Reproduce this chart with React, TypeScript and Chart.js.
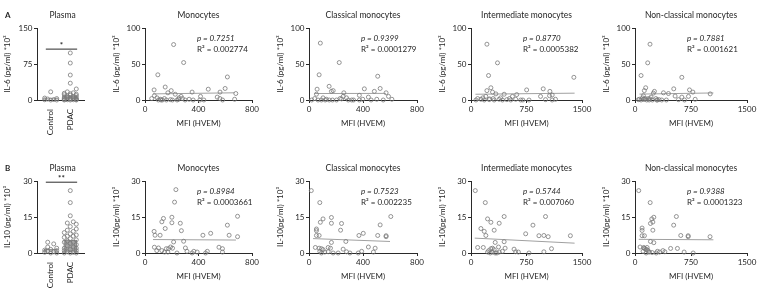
import React, { useEffect, useRef } from 'react';
import { Chart, registerables } from 'chart.js';

Chart.register(...registerables);

const FONT_FAMILY = 'Lato, "Open Sans", "DejaVu Sans", sans-serif';
const TEXT = '#1f1f1f';
const AXIS = '#2a2a2a';
const POINT = '#7a7a7a';
const FIT = '#a0a0a0';

// ---------- Plasma (bar + dots) ----------
const plasmaCategories = ['Control', 'PDAC'];
const il6PlasmaControl = [17, 4, 3, 2, 1, 0.5, 0, 0];
const il6PlasmaPdac = [98, 77, 52, 35, 23, 17, 15, 14, 13, 12, 11, 10, 9, 8, 7, 6, 5, 5, 4, 3, 3, 2, 2, 1, 1, 0.5, 0.5, 0, 0, 0];
const il6PlasmaMeans = [3, 9];
const il10PlasmaControl = [4.5, 3.8, 2.5, 2, 1.5, 1.2, 1, 0.8, 0.5, 0.3, 0, 0];
const il10PlasmaPdac = [26, 21, 15.5, 13, 12.5, 12, 11, 10, 9.5, 9, 8.5, 8, 7.5, 7, 7, 6.5, 6, 5.5, 5, 4.5, 4.5, 4, 3.5, 3, 2.5, 2, 2, 1.5, 1, 1, 0.5, 0.3, 0, 0, 0];
const il10PlasmaMeans = [1.6, 5.4];

// ---------- IL-6 vs MFI (HVEM) ----------
const il6MonoMfi = [214, 289, 96, 151, 616, 68, 473, 599, 171, 196, 226, 352, 561, 679, 415, 50, 70, 100, 115, 130, 145, 160, 190, 205, 240, 255, 270, 280, 300, 330, 360, 410, 440, 540, 560, 580, 670, 90, 120, 250];
const il6MonoVal = [77, 52, 35, 18, 32, 14, 15, 16, 10, 13, 8, 11, 11, 9, 5, 2, 6, 0, 1, 0, 2, 0, 0.5, 0, 0, 3, 5, 2, 0, 1, 0, 0, 0, 4, 2, 0, 1, 3, 0, 1];
const il6MonoFitX = [60, 670];
const il6MonoFitY = [8.5, 10];

const il6ClassMfi = [84, 224, 75, 149, 509, 60, 410, 527, 166, 179, 258, 373, 484, 571, 589, 253, 440, 55, 20, 42, 67, 92, 104, 174, 204, 278, 291, 316, 373, 398, 502, 614, 129, 241, 150, 230, 330, 460, 550, 120];
const il6ClassVal = [79, 52, 35, 19, 33, 15, 15.5, 16, 12, 13, 10, 6.5, 12, 10, 5, 5, 4, 8, 0, 2, 0, 0, 3, 0, 0, 3, 0, 0, 0, 1, 1, 1, 1, 1.5, 0, 2, 0, 0, 0, 0];
const il6ClassFitX = [40, 570];
const il6ClassFitY = [9, 9.2];

const il6InterMfi = [215, 358, 237, 269, 1390, 215, 752, 976, 291, 336, 618, 1061, 448, 560, 1066, 1097, 940, 67, 134, 179, 246, 313, 380, 425, 484, 537, 604, 672, 784, 1007, 1097, 1142, 160, 200, 300, 400, 520, 90, 250, 700];
const il6InterVal = [77.5, 51.6, 34, 17, 31.5, 13, 14, 15.5, 11, 8.5, 7.5, 6, 8, 5, 12, 7, 5, 0, 1, 0, 0.5, 0, 1, 0, 0.5, 0, 1, 0, 0, 0.5, 0, 1, 3, 5, 2, 3, 2, 2, 1.5, 0];
const il6InterFitX = [60, 1400];
const il6InterFitY = [8, 9.5];

const il6NonClassMfi = [201, 170, 81, 143, 627, 125, 519, 730, 775, 246, 381, 448, 1007, 537, 716, 627, 112, 260, 45, 81, 112, 157, 201, 233, 291, 322, 358, 582, 663, 806, 100, 180, 215, 280, 140, 60, 300, 420, 190, 130];
const il6NonClassVal = [77.5, 51.6, 34, 17, 31.5, 13, 15.5, 14, 11, 9.5, 10, 9, 8.5, 5.5, 5, 4, 6, 12, 0.5, 0, 1, 0, 1.5, 0, 0, 0.5, 0, 0.5, 0, 1, 3, 2, 4, 2, 2, 1, 0, 0, 0, 1];
const il6NonClassFitX = [60, 1050];
const il6NonClassFitY = [8.2, 9.8];

// ---------- IL-10 vs MFI (HVEM) ----------
const il10MonoMfi = [231, 221, 126, 138, 201, 201, 264, 151, 272, 68, 75, 113, 692, 616, 433, 491, 629, 692, 214, 289, 70, 101, 159, 176, 191, 206, 126, 88, 146, 171, 239, 302, 314, 352, 390, 453, 466, 553, 579, 579, 365];
const il10MonoVal = [26.4, 21.2, 13, 14.4, 14.9, 12.6, 12.4, 10.2, 9.3, 9, 7.4, 7.4, 15.3, 11.6, 7.4, 8.2, 7.4, 6.8, 4.6, 4.9, 2.4, 2.1, 1.8, 1.8, 2.5, 2, 1, 1, 0.4, 0.4, 0, 2.1, 0.7, 0, 0.4, 0, 0.7, 2.4, 1.8, 0.4, 0.7];
const il10MonoFitX = [60, 680];
const il10MonoFitY = [5.6, 5.4];

const il10ClassMfi = [17, 80, 104, 84, 166, 166, 241, 55, 55, 234, 55, 75, 606, 527, 370, 402, 509, 571, 571, 166, 273, 47, 75, 92, 104, 142, 159, 80, 92, 117, 142, 179, 216, 253, 278, 303, 365, 390, 440, 490, 477];
const il10ClassVal = [26, 21, 14.2, 12.8, 14.8, 12.4, 12.3, 10, 9.3, 9.5, 7.3, 7.3, 15.2, 11.7, 7.3, 8.2, 7.3, 7.2, 6.8, 4.4, 4.8, 2.3, 2, 1.8, 1.4, 2.3, 2, 0.7, 0, 0.4, 0.5, 0, 0, 1.6, 0.5, 0, 0, 0.7, 2.5, 2, 0.4];
const il10ClassFitX = [30, 600];
const il10ClassFitY = [6, 4.8];

const il10InterMfi = [58, 193, 224, 269, 448, 381, 134, 179, 313, 201, 1007, 837, 739, 918, 985, 1043, 1343, 327, 448, 90, 166, 269, 291, 313, 372, 461, 224, 260, 291, 327, 381, 425, 582, 604, 640, 784, 985, 1088, 240, 350];
const il10InterVal = [26, 21, 14.2, 12.8, 15.2, 12.4, 10.2, 9, 9.5, 7.3, 15.2, 11.6, 8, 7.2, 7.3, 6.8, 7.2, 4.4, 4.7, 2.3, 2.3, 1.8, 2, 1.4, 2.5, 2, 0.4, 0, 0.4, 0, 0.4, 0.7, 1.6, 0.5, 0.4, 0, 0.5, 1.8, 1, 0];
const il10InterFitX = [50, 1400];
const il10InterFitY = [6.2, 4.1];

const il10NonClassMfi = [50, 203, 95, 95, 207, 239, 225, 252, 554, 518, 239, 95, 126, 613, 712, 712, 1005, 207, 252, 68, 117, 135, 162, 171, 108, 149, 194, 284, 329, 374, 477, 568, 658, 779, 150, 180, 120, 300, 230, 400];
const il10NonClassVal = [26, 21, 10.4, 9.4, 12.3, 12.9, 14.2, 14.9, 15.2, 11.6, 9.5, 7.2, 7.2, 7.3, 7.2, 6.8, 6.8, 4.8, 4.3, 2.5, 2.3, 1.8, 2.3, 1.2, 0.7, 0, 0.4, 0, 0.4, 1, 1.9, 1.9, 0.4, 0, 1.5, 0.5, 2, 0.7, 0.2, 0.5];
const il10NonClassFitX = [50, 1050];
const il10NonClassFitY = [5.7, 5.5];

const font = (size: number, style = 'normal', weight = 'normal') => ({ family: FONT_FAMILY, size, style, weight } as any);

type ScatterSpec = {
  title: string; yTitle: string; xMax: number; xStep: number; yMax: number; yStep: number;
  mfi: number[]; val: number[]; fitX: number[]; fitY: number[]; p: string; r2: string;
  chartLeft: number; chartRight: number; top: number;
};

type PlasmaSpec = {
  letter: string; yTitle: string; yMax: number; yStep: number; control: number[]; pdac: number[];
  means: number[]; sigValue: number; sigText: string; top: number;
};

const Y_SCALE_W = 37;
const X_SCALE_H = 40;
const PLOT_TOP = 28;
const RIGHT_PAD = 12;
const CANVAS_H = 140;
const DOT_R = 2;

function textPlugin(draw: (chart: any) => void) {
  return { id: 'panelText', afterDraw(chart: any) { const ctx = chart.ctx; ctx.save(); draw(chart); ctx.restore(); } };
}

function axisCommon(stepSize: number, max: number) {
  return {
    type: 'linear', min: 0, max, offset: false,
    ticks: { stepSize, font: font(8), color: TEXT, padding: 1.5, maxRotation: 0, callback: (v: any) => String(v) },
    grid: { drawOnChartArea: false, drawTicks: true, tickLength: 3, color: AXIS, lineWidth: 1 },
    border: { display: true, color: AXIS, width: 1 },
  };
}

function scatterConfig(s: ScatterSpec) {
  return {
    type: 'scatter',
    data: {
      datasets: [
        {
          type: 'line', data: s.fitX.map((x, i) => ({ x, y: s.fitY[i] })), borderColor: FIT, borderWidth: 1,
          pointRadius: 0, clip: false, order: 2,
        },
        {
          type: 'scatter', data: s.mfi.map((x, i) => ({ x, y: s.val[i] })), pointRadius: DOT_R, borderWidth: 0.8,
          borderColor: POINT, backgroundColor: 'rgba(255,255,255,0)', clip: false, order: 1,
        },
      ],
    },
    options: {
      animation: false, responsive: false, events: [],
      layout: { padding: { top: PLOT_TOP, left: 0, right: RIGHT_PAD, bottom: 0 } },
      plugins: { legend: { display: false }, tooltip: { enabled: false } },
      scales: {
        x: {
          ...axisCommon(s.xStep, s.xMax),
          title: { display: true, text: 'MFI (HVEM)', font: font(8), color: TEXT, padding: { top: 0, bottom: 12 } },
          afterFit: (sc: any) => { sc.height = X_SCALE_H; },
        },
        y: {
          ...axisCommon(s.yStep, s.yMax),
          title: { display: true, text: s.yTitle, font: font(8), color: TEXT, padding: { top: 4, bottom: 0 } },
          afterFit: (sc: any) => { sc.width = Y_SCALE_W; },
        },
      },
    },
    plugins: [
      textPlugin((chart) => {
        const { ctx, chartArea: a } = chart;
        ctx.fillStyle = TEXT;
        ctx.textBaseline = 'middle';
        ctx.textAlign = 'center';
        ctx.font = `8.5px ${FONT_FAMILY}`;
        ctx.fillText(s.title, (a.left + a.right) / 2, a.top - 13);
        ctx.textAlign = 'left';
        ctx.font = `italic 8px ${FONT_FAMILY}`;
        ctx.fillText(`p = ${s.p}`, a.left + 52, a.top + 10);
        ctx.font = `8px ${FONT_FAMILY}`;
        ctx.fillText(`R² = ${s.r2}`, a.left + 52, a.top + 21);
      }),
    ],
  };
}

function swarm(values: number[], center: number, pxPerX: number, pxPerY: number) {
  const placed: { px: number; py: number }[] = [];
  const diam = 4.4, step = 3, maxK = 2;
  const order = values.map((_, i) => i).sort((a, b) => values[a] - values[b]);
  const out: { x: number; y: number }[] = new Array(values.length);
  for (const i of order) {
    const py = values[i] * pxPerY;
    let best = 0, bestScore = Infinity;
    for (let k = 0; k <= 2 * maxK; k++) {
      const off = (k % 2 === 1 ? 1 : -1) * Math.ceil(k / 2) * step;
      let score = 0;
      for (const p of placed) {
        const d = Math.hypot(p.px - off, p.py - py);
        if (d < diam) score += diam - d;
      }
      if (score < bestScore - 1e-9) { bestScore = score; best = off; }
      if (score === 0) break;
    }
    placed.push({ px: best, py });
    out[i] = { x: center + best / pxPerX, y: values[i] };
  }
  return out;
}

const PLASMA_LEFT = 37;
const PLASMA_RIGHT = 84;
const PLASMA_XMIN = -0.7;
const PLASMA_XMAX = 1.7;

function plasmaConfig(s: PlasmaSpec) {
  const pxX = (PLASMA_RIGHT - PLASMA_LEFT) / (PLASMA_XMAX - PLASMA_XMIN);
  const pxY = (CANVAS_H - X_SCALE_H - PLOT_TOP) / s.yMax;
  const dotStyle = {
    type: 'scatter', pointRadius: DOT_R, borderWidth: 0.8, borderColor: POINT,
    backgroundColor: 'rgba(255,255,255,0)', clip: false, order: 1,
  };
  return {
    type: 'scatter',
    data: {
      datasets: [
        {
          type: 'bar', data: s.means.map((m, i) => ({ x: i, y: m })), backgroundColor: ['#dadada', '#a5a5a5'],
          borderColor: '#7c7c7c', borderWidth: 0.8, barThickness: 13, order: 3,
        },
        { ...dotStyle, data: swarm(s.control, 0, pxX, pxY) },
        { ...dotStyle, data: swarm(s.pdac, 1, pxX, pxY) },
      ],
    },
    options: {
      animation: false, responsive: false, events: [],
      layout: { padding: { top: PLOT_TOP, left: 0, right: 6, bottom: 0 } },
      plugins: { legend: { display: false }, tooltip: { enabled: false } },
      scales: {
        x: {
          type: 'linear', min: PLASMA_XMIN, max: PLASMA_XMAX, offset: false,
          afterBuildTicks: (sc: any) => { sc.ticks = plasmaCategories.map((_, i) => ({ value: i })); },
          ticks: { display: false },
          grid: { display: false },
          border: { display: true, color: AXIS, width: 1 },
          afterFit: (sc: any) => { sc.height = X_SCALE_H; },
        },
        y: {
          ...axisCommon(s.yStep, s.yMax),
          title: { display: true, text: s.yTitle, font: font(8), color: TEXT, padding: { top: 3, bottom: 0 } },
          afterFit: (sc: any) => { sc.width = Y_SCALE_W; },
        },
      },
    },
    plugins: [
      textPlugin((chart) => {
        const { ctx, chartArea: a, scales } = chart;
        ctx.fillStyle = TEXT;
        ctx.textBaseline = 'middle';
        ctx.textAlign = 'center';
        ctx.font = `8.5px ${FONT_FAMILY}`;
        ctx.fillText('Plasma', (a.left + a.right) / 2 + 2, a.top - 13);
        ctx.textAlign = 'left';
        ctx.font = `bold 8px ${FONT_FAMILY}`;
        ctx.fillText(s.letter, 5, a.top - 13);
        // category labels (vertical, reading upward)
        ctx.font = `8px ${FONT_FAMILY}`;
        plasmaCategories.forEach((label, i) => {
          const px = scales.x.getPixelForValue(i);
          ctx.save();
          ctx.translate(px, a.bottom + 9);
          ctx.rotate(-Math.PI / 2);
          ctx.textAlign = 'right';
          ctx.textBaseline = 'middle';
          ctx.fillText(label, 0, 0);
          ctx.restore();
        });
        // significance bar
        const y = scales.y.getPixelForValue(s.sigValue);
        const x0 = scales.x.getPixelForValue(-0.25);
        const x1 = scales.x.getPixelForValue(1.35);
        ctx.strokeStyle = AXIS;
        ctx.lineWidth = 1;
        ctx.beginPath();
        ctx.moveTo(x0, y);
        ctx.lineTo(x1, y);
        ctx.stroke();
        ctx.textAlign = 'center';
        ctx.font = `bold 8px ${FONT_FAMILY}`;
        ctx.fillText(s.sigText, (x0 + x1) / 2, y - 4);
      }),
    ],
  };
}

function ChartCanvas({ left, top, width, height, build }: { left: number; top: number; width: number; height: number; build: () => any }) {
  const ref = useRef<HTMLCanvasElement>(null);
  useEffect(() => {
    const chart = new Chart(ref.current as HTMLCanvasElement, build());
    return () => chart.destroy();
  }, []);
  return (
    <canvas
      ref={ref}
      width={width}
      height={height}
      style={{ position: 'absolute', left, top, width, height }}
    />
  );
}

const ROW_B_TOP = 153;
const IL6_TITLE = 'IL-6 (pg/ml) *10³';
const IL10_TITLE = 'IL-10(pg/ml) *10³';

const scatterSpecs: ScatterSpec[] = [
  { title: 'Monocytes', yTitle: IL6_TITLE, xMax: 800, xStep: 400, yMax: 100, yStep: 50, mfi: il6MonoMfi, val: il6MonoVal, fitX: il6MonoFitX, fitY: il6MonoFitY, p: '0.7251', r2: '0.002774', chartLeft: 145, chartRight: 252, top: 0 },
  { title: 'Classical monocytes', yTitle: IL6_TITLE, xMax: 800, xStep: 400, yMax: 100, yStep: 50, mfi: il6ClassMfi, val: il6ClassVal, fitX: il6ClassFitX, fitY: il6ClassFitY, p: '0.9399', r2: '0.0001279', chartLeft: 309, chartRight: 417, top: 0 },
  { title: 'Intermediate monocytes', yTitle: IL6_TITLE, xMax: 1500, xStep: 750, yMax: 100, yStep: 50, mfi: il6InterMfi, val: il6InterVal, fitX: il6InterFitX, fitY: il6InterFitY, p: '0.8770', r2: '0.0005382', chartLeft: 471, chartRight: 582, top: 0 },
  { title: 'Non-classical monocytes', yTitle: IL6_TITLE, xMax: 1500, xStep: 750, yMax: 100, yStep: 50, mfi: il6NonClassMfi, val: il6NonClassVal, fitX: il6NonClassFitX, fitY: il6NonClassFitY, p: '0.7881', r2: '0.001621', chartLeft: 635, chartRight: 747, top: 0 },
  { title: 'Monocytes', yTitle: IL10_TITLE, xMax: 800, xStep: 400, yMax: 30, yStep: 15, mfi: il10MonoMfi, val: il10MonoVal, fitX: il10MonoFitX, fitY: il10MonoFitY, p: '0.8984', r2: '0.0003661', chartLeft: 145, chartRight: 252, top: ROW_B_TOP },
  { title: 'Classical monocytes', yTitle: IL10_TITLE, xMax: 800, xStep: 400, yMax: 30, yStep: 15, mfi: il10ClassMfi, val: il10ClassVal, fitX: il10ClassFitX, fitY: il10ClassFitY, p: '0.7523', r2: '0.002235', chartLeft: 309, chartRight: 417, top: ROW_B_TOP },
  { title: 'Intermediate monocytes', yTitle: IL10_TITLE, xMax: 1500, xStep: 750, yMax: 30, yStep: 15, mfi: il10InterMfi, val: il10InterVal, fitX: il10InterFitX, fitY: il10InterFitY, p: '0.5744', r2: '0.007060', chartLeft: 471, chartRight: 582, top: ROW_B_TOP },
  { title: 'Non-classical monocytes', yTitle: IL10_TITLE, xMax: 1500, xStep: 750, yMax: 30, yStep: 15, mfi: il10NonClassMfi, val: il10NonClassVal, fitX: il10NonClassFitX, fitY: il10NonClassFitY, p: '0.9388', r2: '0.0001323', chartLeft: 635, chartRight: 747, top: ROW_B_TOP },
];

const plasmaSpecs: PlasmaSpec[] = [
  { letter: 'A', yTitle: IL6_TITLE, yMax: 150, yStep: 75, control: il6PlasmaControl, pdac: il6PlasmaPdac, means: il6PlasmaMeans, sigValue: 106, sigText: '*', top: 0 },
  { letter: 'B', yTitle: 'IL-10 (pg/ml) *10³', yMax: 30, yStep: 15, control: il10PlasmaControl, pdac: il10PlasmaPdac, means: il10PlasmaMeans, sigValue: 29.5, sigText: '**', top: ROW_B_TOP },
];

export default function App() {
  return (
    <div style={{ position: 'absolute', left: 0, top: 0, width: 761, height: 298, background: '#fff', overflow: 'hidden' }}>
      {plasmaSpecs.map((s, i) => (
        <ChartCanvas key={`p${i}`} left={0} top={s.top} width={PLASMA_RIGHT + 6} height={CANVAS_H} build={() => plasmaConfig(s)} />
      ))}
      {scatterSpecs.map((s, i) => (
        <ChartCanvas
          key={`s${i}`}
          left={s.chartLeft - Y_SCALE_W}
          top={s.top}
          width={s.chartRight - s.chartLeft + Y_SCALE_W + RIGHT_PAD}
          height={CANVAS_H}
          build={() => scatterConfig(s)}
        />
      ))}
    </div>
  );
}
